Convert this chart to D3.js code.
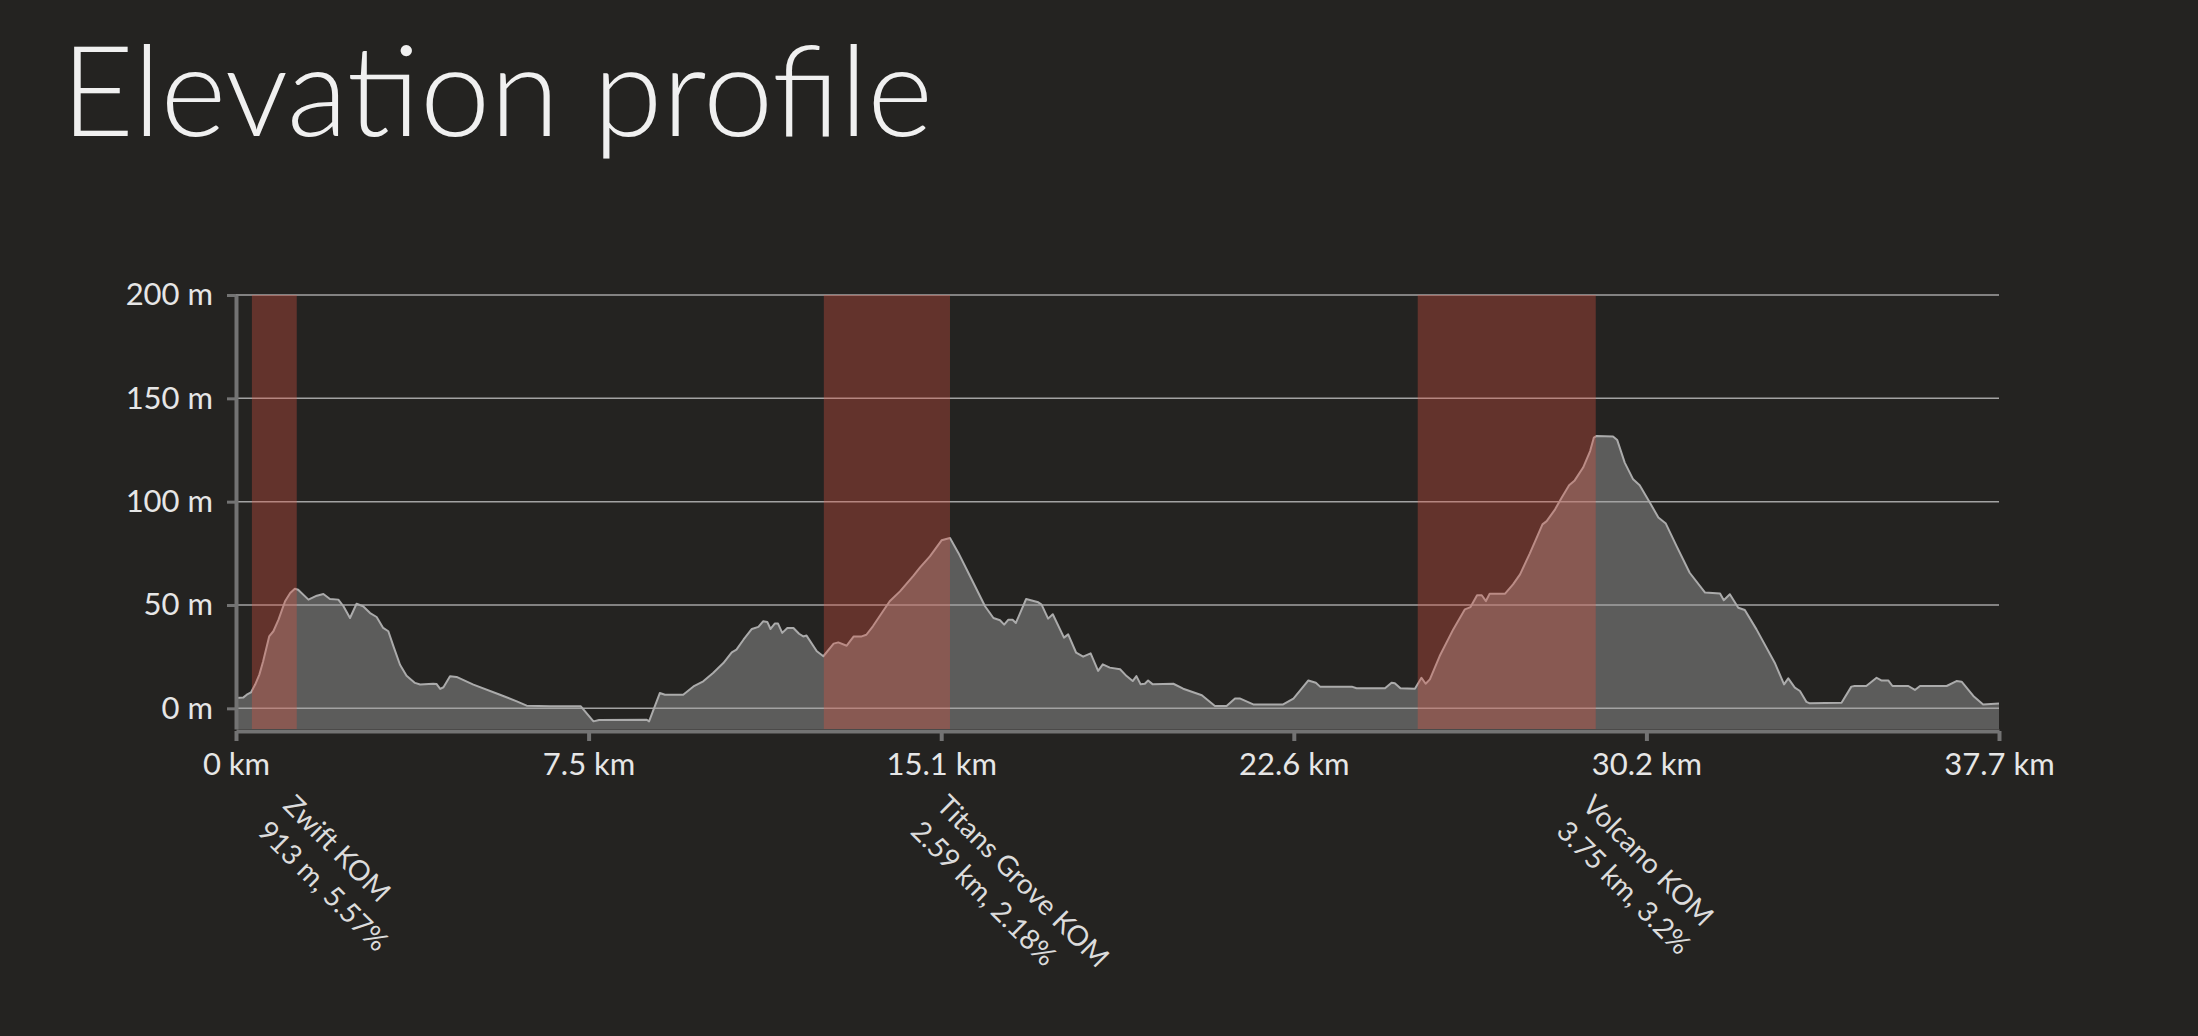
<!DOCTYPE html>
<html>
<head>
<meta charset="utf-8">
<script src="https://cdn.jsdelivr.net/npm/d3@7"></script>
<style>
  html, body { margin: 0; padding: 0; background: #242321; }
  svg { display: block; }
  .axis path, .axis line { stroke: #737373; }
  .axis text { fill: #e6e6e6; font-family: Lato, sans-serif; font-size: 31px; }
</style>
</head>
<body>
<div id="chart_elevation"></div>
<script>
// distance along the route (km) and elevation (m)
var distances = [
    0.00, 0.16, 0.23, 0.32, 0.41, 0.50, 0.58, 0.71, 0.80, 0.91, 1.05, 1.16, 1.26, 1.33, 1.55, 1.73,
    1.87, 2.01, 2.19, 2.30, 2.44, 2.58, 2.72, 2.87, 3.01, 3.15, 3.26, 3.37, 3.51, 3.65, 3.83, 3.94,
    4.22, 4.29, 4.37, 4.44, 4.58, 4.72, 5.08, 5.65, 6.01, 6.22, 6.72, 7.38, 7.65, 7.77, 8.79, 8.84,
    9.07, 9.18, 9.57, 9.79, 10.00, 10.21, 10.43, 10.61, 10.71, 10.86, 11.04, 11.18, 11.28, 11.37,
    11.44, 11.53, 11.60, 11.69, 11.80, 11.93, 12.05, 12.14, 12.21, 12.43, 12.57, 12.79, 12.89, 13.07,
    13.22, 13.39, 13.49, 13.63, 13.99, 14.21, 14.50, 14.64, 14.85, 15.10, 15.28, 15.46, 15.71, 16.03,
    16.21, 16.35, 16.44, 16.53, 16.62, 16.69, 16.91, 17.17, 17.24, 17.38, 17.48, 17.72, 17.81, 17.98,
    18.13, 18.29, 18.45, 18.55, 18.70, 18.92, 19.06, 19.19, 19.27, 19.36, 19.45, 19.52, 19.62, 20.06,
    20.27, 20.67, 20.95, 21.20, 21.38, 21.48, 21.77, 22.41, 22.63, 22.95, 23.11, 23.20, 23.88, 23.98,
    24.59, 24.73, 24.80, 24.92, 25.23, 25.37, 25.46, 25.55, 25.76, 26.05, 26.30, 26.42, 26.56, 26.66,
    26.75, 26.83, 27.16, 27.33, 27.48, 27.69, 27.96, 28.05, 28.23, 28.37, 28.53, 28.65, 28.83, 28.98,
    29.06, 29.12, 29.47, 29.56, 29.72, 29.90, 30.04, 30.26, 30.44, 30.60, 30.83, 31.11, 31.44, 31.76,
    31.84, 31.97, 32.15, 32.29, 32.54, 32.93, 33.13, 33.22, 33.36, 33.47, 33.61, 33.68, 34.36, 34.57,
    34.64, 34.89, 35.11, 35.21, 35.36, 35.45, 35.79, 35.93, 36.04, 36.61, 36.82, 36.93, 37.18, 37.39,
    37.73
];

var elevations = [
    5.0, 5.3, 6.6, 7.7, 11.5, 16.3, 22.7, 34.8, 37.3, 42.9, 51.8, 55.8, 57.9, 57.4, 52.6, 54.5,
    55.3, 52.9, 52.6, 49.4, 43.7, 50.6, 49.4, 46.1, 44.2, 38.9, 37.3, 30.0, 21.1, 15.8, 12.3, 11.5,
    11.9, 11.8, 9.4, 10.2, 15.5, 15.2, 11.5, 6.6, 3.4, 1.3, 1.0, 1.0, -6.3, -5.6, -5.5, -6.3,
    7.4, 6.6, 6.6, 10.6, 13.1, 17.1, 21.9, 27.1, 28.4, 33.2, 38.4, 39.4, 42.1, 41.8,
    38.4, 41.0, 41.0, 36.5, 38.9, 38.9, 36.1, 34.8, 35.2, 27.6, 25.2, 31.3, 31.9, 30.3,
    34.8, 34.8, 35.6, 39.7, 51.8, 56.6, 64.2, 68.2, 73.5, 81.3, 82.4, 75.2, 63.9, 49.4,
    43.7, 42.6, 40.5, 42.9, 42.9, 41.3, 52.9, 51.3, 50.2, 43.4, 45.5, 34.2, 35.8, 26.9,
    25.0, 26.6, 18.1, 21.3, 19.7, 18.9, 15.6, 13.2, 15.6, 11.6, 11.9, 13.5, 11.6, 11.9,
    9.5, 6.3, 1.1, 1.1, 4.7, 4.8, 1.9, 1.9, 4.7, 13.5, 12.4, 10.5, 10.5, 9.7,
    9.7, 12.4, 12.1, 9.7, 9.5, 14.8, 11.9, 14.0, 25.3, 38.2, 47.9, 49.0, 54.7, 54.7,
    51.9, 55.5, 55.5, 60.0, 64.8, 75.0, 89.0, 90.6, 96.3, 101.9, 107.9, 110.3, 116.5, 124.5,
    131.0, 131.8, 131.5, 129.8, 118.9, 110.8, 107.9, 99.5, 92.3, 89.4, 78.5, 65.6, 56.0, 55.6,
    52.3, 55.2, 48.7, 47.6, 38.2, 22.1, 11.6, 14.5, 10.0, 8.4, 3.1, 2.4, 2.7, 10.5,
    10.8, 10.8, 14.8, 13.5, 13.5, 10.8, 10.8, 8.9, 10.8, 10.8, 13.2, 12.9, 6.0, 1.9,
    2.3
];

// climbs (KOM segments)
var climbNames = ["Zwift KOM", "Titans Grove KOM", "Volcano KOM"];
var climbInfo = ["913 m, 5.57%", "2.59 km, 2.18%", "3.75 km, 3.2%"];
var climbStart = [0.34, 12.58, 25.29];
var climbEnd = [1.30, 15.28, 29.10];

// axes
var totalKm = 37.73;
var xTickValues = [0, 7.546, 15.092, 22.638, 30.184, 37.73];
var xTickLabels = ["0 km", "7.5 km", "15.1 km", "22.6 km", "30.2 km", "37.7 km"];
var yTickValues = [0, 50, 100, 150, 200];
var yTickLabels = ["0 m", "50 m", "100 m", "150 m", "200 m"];

(function (selector) {
    var svg = d3.select(selector).append("svg")
        .attr("width", 2198)
        .attr("height", 1036);

    svg.append("rect")
        .attr("width", 2198)
        .attr("height", 1036)
        .attr("fill", "#242321");

    svg.append("text")
        .attr("x", 61)
        .attr("y", 136)
        .attr("font-family", "Lato, sans-serif")
        .attr("font-weight", 300)
        .attr("font-size", 126)
        .attr("textLength", 872)
        .attr("fill", "#f0f0f0")
        .text("Elevation profile");

    var margin = { top: 295, left: 236 },
        width = 1763,
        height = 434,
        g = svg.append("g").attr("transform", "translate(" + margin.left + "," + margin.top + ")");

    var points = distances.map(function (d, i) { return { km: d, elev: elevations[i] }; });

    var x = d3.scaleLinear()
        .domain([0, totalKm])
        .range([0, width]);

    var y = d3.scaleLinear()
        .domain([-10, 200])
        .range([height, 0]);

    // profile
    var area = d3.area()
        .x(function (d) { return x(d.km); })
        .y0(height)
        .y1(function (d) { return y(d.elev); });

    var line = d3.line()
        .x(function (d) { return x(d.km); })
        .y(function (d) { return y(d.elev); });

    g.append("path")
        .datum(points)
        .attr("d", area)
        .attr("fill", "#5c5c5b");

    // grid lines
    g.append("g")
        .selectAll("line")
        .data(yTickValues)
        .enter().append("line")
        .attr("x1", 0)
        .attr("x2", width)
        .attr("y1", function (d) { return y(d); })
        .attr("y2", function (d) { return y(d); })
        .attr("stroke", "#a3a3a3")
        .attr("stroke-width", 1.5);

    g.append("path")
        .datum(points)
        .attr("d", line)
        .attr("fill", "none")
        .attr("stroke", "#ababab")
        .attr("stroke-width", 2)
        .attr("stroke-linejoin", "round");

    // climb bands on top
    g.append("g")
        .selectAll("rect")
        .data(climbNames)
        .enter().append("rect")
        .attr("x", function (d, i) { return x(climbStart[i]); })
        .attr("y", y(200))
        .attr("width", function (d, i) { return x(climbEnd[i]) - x(climbStart[i]); })
        .attr("height", height - y(200))
        .attr("fill", "rgb(218, 84, 65)")
        .attr("fill-opacity", 0.35);

    // axes
    var yAxis = g.append("g")
        .attr("class", "axis")
        .call(d3.axisLeft(y)
            .tickValues(yTickValues)
            .tickFormat(function (d, i) { return yTickLabels[i]; })
            .tickSize(9)
            .tickSizeOuter(0)
            .tickPadding(14));
    yAxis.select(".domain").attr("stroke-width", 4);
    yAxis.selectAll(".tick line").attr("stroke-width", 3);

    var xAxis = g.append("g")
        .attr("class", "axis")
        .attr("transform", "translate(0," + (height + 2) + ")")
        .call(d3.axisBottom(x)
            .tickValues(xTickValues)
            .tickFormat(function (d, i) { return xTickLabels[i]; })
            .tickSize(10)
            .tickSizeOuter(0)
            .tickPadding(12));
    xAxis.select(".domain").attr("stroke-width", 4);
    xAxis.selectAll(".tick line").attr("stroke-width", 4);

    // climb labels, rotated under the end of each band
    var labels = g.append("g")
        .selectAll("text")
        .data(climbNames)
        .enter().append("text")
        .attr("transform", function (d, i) {
            return "translate(" + (x(climbEnd[i]) - 15) + "," + (height + 78) + ") rotate(45)";
        })
        .attr("font-family", "Lato, sans-serif")
        .attr("font-size", 28)
        .attr("fill", "#dcdcdc");

    labels.append("tspan")
        .attr("x", 0)
        .text(function (d) { return d; });

    labels.append("tspan")
        .attr("x", 0)
        .attr("dy", "1.3em")
        .text(function (d, i) { return climbInfo[i]; });
})("#chart_elevation");
</script>
</body>
</html>
